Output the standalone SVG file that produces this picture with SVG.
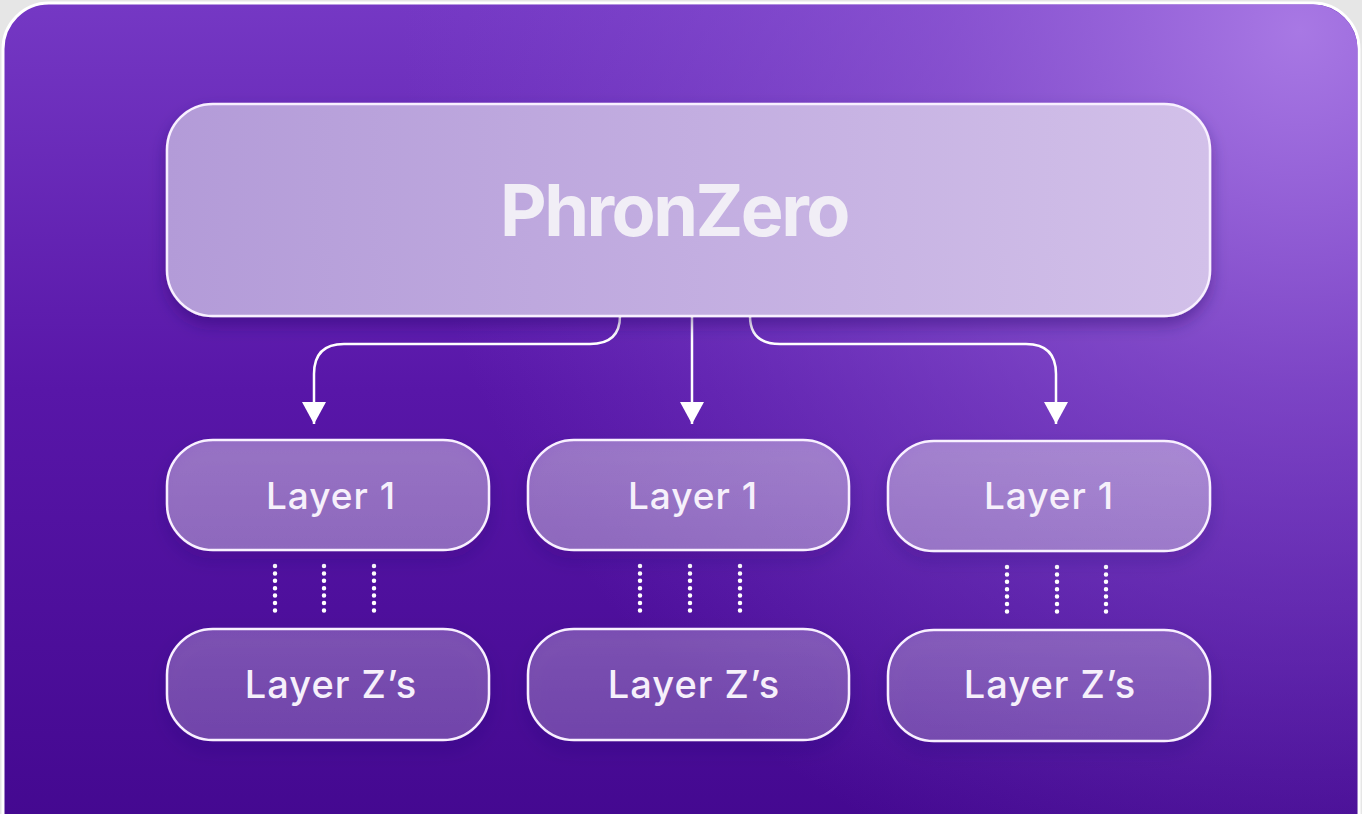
<svg xmlns="http://www.w3.org/2000/svg" width="1362" height="814" viewBox="0 0 1362 814">
  <defs>
    <linearGradient id="bgLin" x1="0" y1="0" x2="0" y2="1">
      <stop offset="0" stop-color="#7538c4"/>
      <stop offset="0.45" stop-color="#5816a8"/>
      <stop offset="1" stop-color="#42078e"/>
    </linearGradient>
    <radialGradient id="bgGlow" cx="1300" cy="30" r="900" gradientUnits="userSpaceOnUse">
      <stop offset="0" stop-color="#a878e4" stop-opacity="1"/>
      <stop offset="0.4" stop-color="#9462d8" stop-opacity="0.6"/>
      <stop offset="1" stop-color="#8050d0" stop-opacity="0"/>
    </radialGradient>
    <linearGradient id="topFill" x1="0" y1="0" x2="1" y2="0">
      <stop offset="0" stop-color="#b39bd8"/>
      <stop offset="1" stop-color="#d2c0e9"/>
    </linearGradient>
    <linearGradient id="l1Fill" x1="0" y1="0" x2="0" y2="1">
      <stop offset="0" stop-color="#ffffff" stop-opacity="0.36"/>
      <stop offset="1" stop-color="#ffffff" stop-opacity="0.32"/>
    </linearGradient>
    <linearGradient id="lzFill" x1="0" y1="0" x2="0" y2="1">
      <stop offset="0" stop-color="#ffffff" stop-opacity="0.24"/>
      <stop offset="1" stop-color="#ffffff" stop-opacity="0.2"/>
    </linearGradient>
    <filter id="shadow" x="-10%" y="-20%" width="120%" height="150%">
      <feDropShadow dx="0" dy="8" stdDeviation="8" flood-color="#2a0060" flood-opacity="0.4"/>
    </filter>
    <marker id="arrow" viewBox="0 0 22 24" refX="22" refY="12" markerWidth="22" markerHeight="24" markerUnits="userSpaceOnUse" orient="auto">
      <path d="M0,0 L22,12 L0,24 Z" fill="#ffffff"/>
    </marker>
    <style>
      .node { stroke: #f8f0ff; stroke-width: 2.5; }
      .lbl { font-family: Inter, "Open Sans", "Liberation Sans", sans-serif; font-weight: 500; fill: #f6f0fb; text-anchor: middle; letter-spacing: 1px; }
      .conn { fill: none; stroke: #ffffff; stroke-width: 2.5; }
      .dots { fill: none; stroke: #ffffff; stroke-width: 4.5; stroke-linecap: round; stroke-dasharray: 0 7.4; }
    </style>
  </defs>

  <rect x="0" y="0" width="1362" height="814" fill="#e6e6e6"/>
  <g id="background">
    <rect x="3" y="3" width="1356" height="860" rx="46" fill="url(#bgLin)" stroke="#ffffff" stroke-width="3"/>
    <rect x="4.5" y="4.5" width="1353" height="857" rx="45" fill="url(#bgGlow)"/>
  </g>

  <g id="connectors">
    <path class="conn" d="M692,316 L692,424" marker-end="url(#arrow)"/>
    <path class="conn" d="M620,316 Q620,344 590,344 L344,344 Q314,344 314,374 L314,424" marker-end="url(#arrow)"/>
    <path class="conn" d="M750,316 Q750,344 780,344 L1026,344 Q1056,344 1056,374 L1056,424" marker-end="url(#arrow)"/>
    <path class="dots" d="M275,566 V614 M324,566 V614 M374,566 V614"/>
    <path class="dots" d="M640,566 V614 M690,566 V614 M740,566 V614"/>
    <path class="dots" d="M1007,567 V615 M1057,567 V615 M1106,567 V615"/>
  </g>

  <g id="phronzero">
    <rect class="node" x="167" y="104" width="1043" height="212" rx="46" fill="url(#topFill)" filter="url(#shadow)"/>
    <text x="674" y="236" font-family="Inter, 'Liberation Sans', Arial, sans-serif" font-weight="700" font-size="72" letter-spacing="-2.5" fill="#f1eef6" text-anchor="middle">PhronZero</text>
  </g>

  <g id="layer1-a">
    <rect class="node" x="167" y="440" width="322" height="110" rx="46" fill="url(#l1Fill)" filter="url(#shadow)"/>
    <text class="lbl" x="331" y="509" font-size="37">Layer 1</text>
  </g>
  <g id="layer1-b">
    <rect class="node" x="528" y="440" width="321" height="110" rx="46" fill="url(#l1Fill)" filter="url(#shadow)"/>
    <text class="lbl" x="693" y="509" font-size="37">Layer 1</text>
  </g>
  <g id="layer1-c">
    <rect class="node" x="888" y="441" width="322" height="110" rx="46" fill="url(#l1Fill)" filter="url(#shadow)"/>
    <text class="lbl" x="1049" y="509" font-size="37">Layer 1</text>
  </g>

  <g id="layerz-a">
    <rect class="node" x="167" y="629" width="322" height="111" rx="46" fill="url(#lzFill)" filter="url(#shadow)"/>
    <text class="lbl" x="331" y="698" font-size="38">Layer Z’s</text>
  </g>
  <g id="layerz-b">
    <rect class="node" x="528" y="629" width="321" height="111" rx="46" fill="url(#lzFill)" filter="url(#shadow)"/>
    <text class="lbl" x="694" y="698" font-size="38">Layer Z’s</text>
  </g>
  <g id="layerz-c">
    <rect class="node" x="888" y="630" width="322" height="111" rx="46" fill="url(#lzFill)" filter="url(#shadow)"/>
    <text class="lbl" x="1050" y="698" font-size="38">Layer Z’s</text>
  </g>
</svg>
